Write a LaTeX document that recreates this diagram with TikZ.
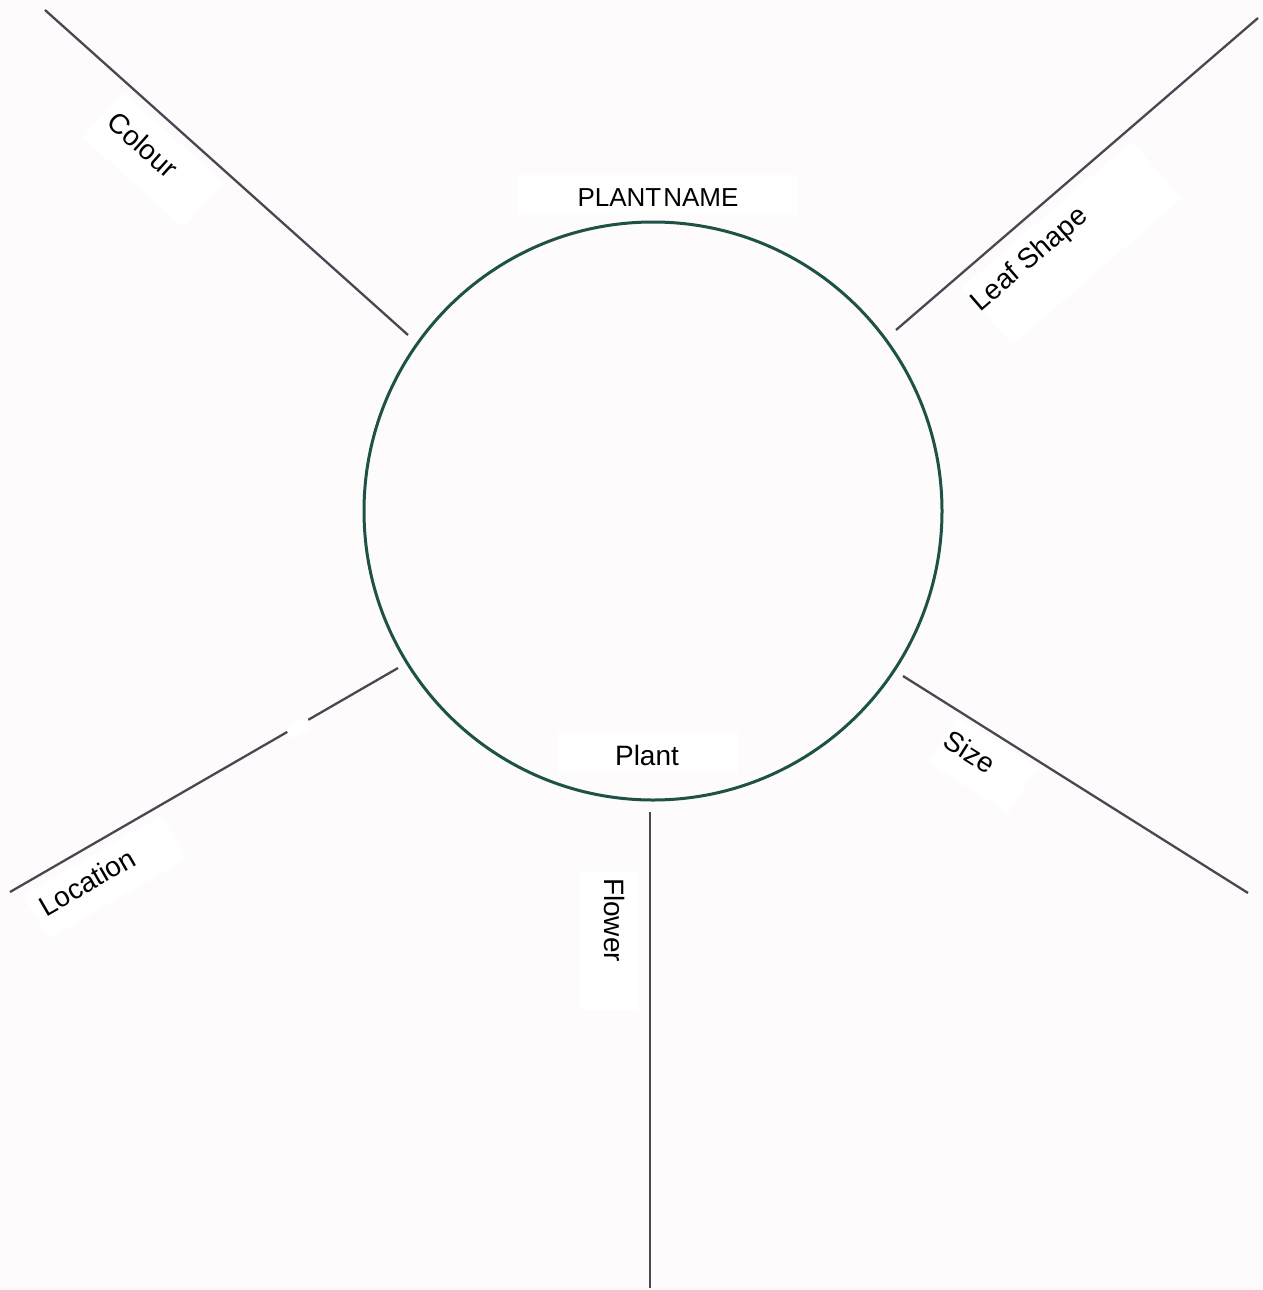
\documentclass[tikz,border=0pt]{standalone}
\usepackage{fontspec}
\setmainfont{Liberation Sans}
\definecolor{bgc}{HTML}{FEFBFD}
\definecolor{ringc}{HTML}{1F5247}
\definecolor{spokec}{HTML}{4A4652}
\begin{document}
\begin{tikzpicture}[x=0.5pt,y=-0.5pt,
  spoke/.style={draw=spokec,line width=1.15pt},
  patch/.style={fill=white,draw=none,inner sep=0pt},
  lbl/.style={inner sep=0pt,font=\fontsize{14}{16}\selectfont,text=black}]
\fill[bgc] (0,0) rectangle (1263,1290);
\useasboundingbox (0,0) rectangle (1263,1290);
% endpoints of spokes
\coordinate (colA) at (45,10);   \coordinate (colB) at (408,335);
\coordinate (leafA) at (1258,18); \coordinate (leafB) at (896,330);
\coordinate (locA) at (10,892);  \coordinate (locB) at (398,668);
\coordinate (sizeA) at (903,676); \coordinate (sizeB) at (1248,893);
\coordinate (flA) at (650,812);  \coordinate (flB) at (650,1288);
\draw[spoke] (colA) -- (colB);
\draw[spoke] (leafA) -- (leafB);
\draw[spoke] (locA) -- (locB);
\draw[spoke] (sizeA) -- (sizeB);
\draw[spoke] (flA) -- (flB);
% white label patches
\node[patch,rotate=-41.8,minimum width=67.5pt,minimum height=30pt] (colbox) at (153,160) {};
\node[patch,rotate=40.8,minimum width=112pt,minimum height=38pt] (leafbox) at (1072,243) {};
\node[patch,rotate=30,minimum width=80pt,minimum height=25pt] (locbox) at (105,877) {};
\node[patch,rotate=30,minimum width=12pt,minimum height=6pt] (locgap) at (299,728) {};
\node[patch,rotate=-32.2,minimum width=47pt,minimum height=27pt] (sizebox) at (983,765) {};
\node[patch,minimum width=29pt,minimum height=69pt] (flbox) at (609,941) {};
\node[patch,minimum width=139.5pt,minimum height=20pt] (namebox) at (657,195) {};
% ring
\node[draw=ringc,line width=1.5pt,circle,minimum size=289pt,inner sep=0pt] (ring) at (653,511) {};
\node[patch,minimum width=90pt,minimum height=20.5pt] (plantbox) at (648,752) {};
% texts
\node[lbl,rotate=-41.8] (colour) at (143,145) {Colour};
\node[lbl,rotate=40.8] (leaf) at (1030,260) {Leaf Shape};
\node[lbl,rotate=30] (loc) at (87,882) {Location};
\node[lbl,rotate=-32.2] (size) at (970,752) {Size};
\node[lbl,rotate=-90] (flower) at (614,920) {Flower};
\node[lbl,font=\fontsize{13}{16}\selectfont] (pname) at (658,198) {PLANT\kern1pt NAME};
\node[lbl] (plant) at (647,755) {Plant};
\end{tikzpicture}
\end{document}
